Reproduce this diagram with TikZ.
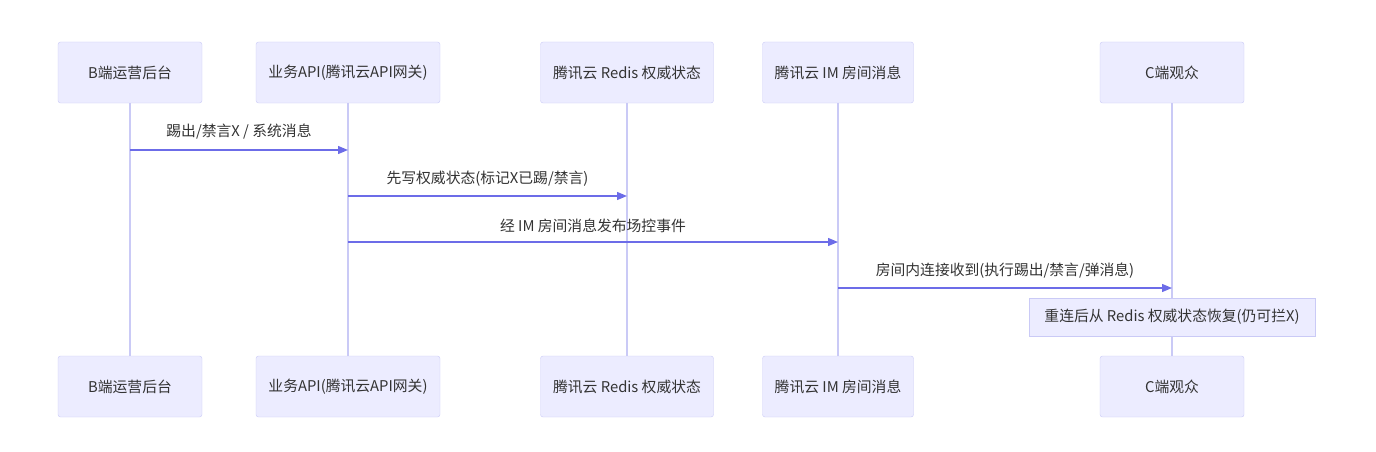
\documentclass[tikz,border=0pt]{standalone}
\usepackage{fontspec}
\setmainfont{Noto Sans CJK SC}
\usetikzlibrary{arrows.meta}
\definecolor{actorfill}{HTML}{ECECFF}
\definecolor{actorline}{HTML}{CACAF6}
\definecolor{msgline}{HTML}{6C6CE8}
\definecolor{txtgray}{HTML}{333333}

\begin{document}
\begin{tikzpicture}[x=1pt,y=-1pt,
    actor/.style={rectangle, draw=actorline, fill=actorfill, rounded corners=2.5pt,
      minimum height=61pt, inner sep=0pt, text=txtgray, font=\fontsize{14.8}{17}\selectfont},
    lifeline/.style={draw=actorline, line width=1.3pt},
    msg/.style={draw=msgline, line width=1.3pt, -{Triangle[length=10pt,width=8pt]}},
    msglabel/.style={text=txtgray, font=\fontsize{14.8}{17}\selectfont, inner sep=0pt},
    notebox/.style={rectangle, draw=actorline, fill=actorfill, minimum width=286pt,
      minimum height=38pt, inner sep=0pt, text=txtgray, font=\fontsize{14.8}{17}\selectfont}]
  \useasboundingbox (0,0) rectangle (1376,452);

  \node (opsTop) [actor, minimum width=144pt] at (130, 72.5) {B端运营后台};
  \node (apiTop) [actor, minimum width=184pt] at (348, 72.5) {业务API(腾讯云API网关)};
  \node (redisTop) [actor, minimum width=173pt] at (627, 72.5) {腾讯云 Redis 权威状态};
  \node (imTop) [actor, minimum width=151pt] at (838, 72.5) {腾讯云 IM 房间消息};
  \node (userTop) [actor, minimum width=144pt] at (1172, 72.5) {C端观众};

  \node (opsBot) [actor, minimum width=144pt] at (130, 386.5) {B端运营后台};
  \node (apiBot) [actor, minimum width=184pt] at (348, 386.5) {业务API(腾讯云API网关)};
  \node (redisBot) [actor, minimum width=173pt] at (627, 386.5) {腾讯云 Redis 权威状态};
  \node (imBot) [actor, minimum width=151pt] at (838, 386.5) {腾讯云 IM 房间消息};
  \node (userBot) [actor, minimum width=144pt] at (1172, 386.5) {C端观众};

  \draw[lifeline] (opsTop) -- (opsBot);
  \draw[lifeline] (apiTop) -- (apiBot);
  \draw[lifeline] (redisTop) -- (redisBot);
  \draw[lifeline] (imTop) -- (imBot);
  \draw[lifeline] (userTop) -- (userBot);

  \coordinate (kickFrom) at (130, 150);
  \coordinate (kickTo) at (348, 150);
  \coordinate (writeFrom) at (348, 196);
  \coordinate (writeTo) at (627, 196);
  \coordinate (pubFrom) at (348, 242);
  \coordinate (pubTo) at (838, 242);
  \coordinate (recvFrom) at (838, 288);
  \coordinate (recvTo) at (1172, 288);

  \draw[msg] (kickFrom) -- (kickTo) node [msglabel, midway, yshift=18pt] {踢出/禁言X / 系统消息};
  \draw[msg] (writeFrom) -- (writeTo) node [msglabel, midway, yshift=17pt] {先写权威状态(标记X已踢/禁言)};
  \draw[msg] (pubFrom) -- (pubTo) node [msglabel, midway, yshift=16pt] {经 IM 房间消息发布场控事件};
  \draw[msg] (recvFrom) -- (recvTo) node [msglabel, midway, yshift=17pt] {房间内连接收到(执行踢出/禁言/弹消息)};

  \node (restore) [notebox] at (1172, 317) {重连后从 Redis 权威状态恢复(仍可拦X)};
\end{tikzpicture}
\end{document}
